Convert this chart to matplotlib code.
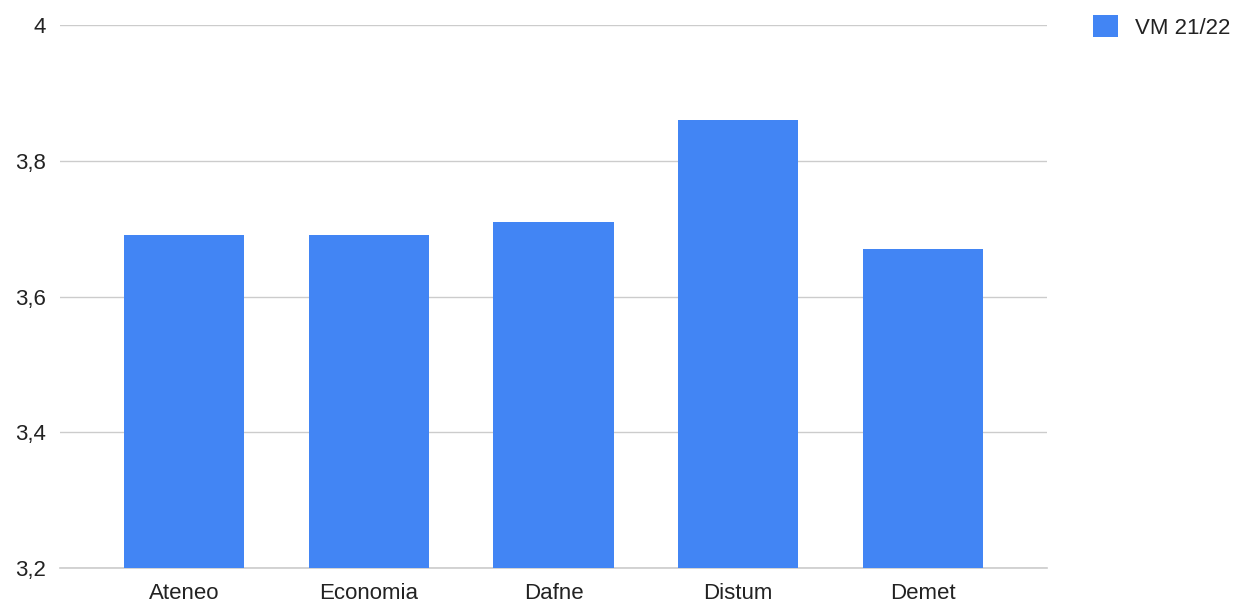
import numpy as np
from matplotlib import pyplot as plt
from matplotlib.ticker import FuncFormatter

categories = ["Ateneo", "Economia", "Dafne", "Distum", "Demet"]
values = [3.69, 3.69, 3.71, 3.86, 3.67]
series_name = "VM 21/22"
yticks = [3.2, 3.4, 3.6, 3.8, 4.0]

plt.rcParams["font.family"] = ["Liberation Sans", "DejaVu Sans"]

fig = plt.figure(figsize=(12.5, 6.04), dpi=100)
ax = fig.add_axes([0.048, 0.0596, 0.7896, 0.899])

x = np.arange(len(categories))
ax.bar(x, values, width=0.65, color="#4285f4", label=series_name, zorder=3)

ax.set_xlim(-0.672, len(categories) - 1 + 0.672)
ax.set_ylim(3.2, 4.0)
ax.set_yticks(yticks)
ax.yaxis.set_major_formatter(
    FuncFormatter(lambda v, p: ("%g" % round(v, 1)).replace(".", ","))
)
ax.set_xticks(x)
ax.set_xticklabels(categories)
ax.grid(axis="y", color="#cccccc", lw=1, zorder=0)
ax.axhline(3.2, color="#cccccc", lw=1.2, zorder=2, clip_on=False)
for s in ax.spines.values():
    s.set_visible(False)
ax.tick_params(length=0, labelsize=16, colors="#222222", pad=10)
ax.tick_params(axis="x", pad=11)

ax.legend(loc="upper left", bbox_to_anchor=(0.858, 1.008),
          bbox_transform=fig.transFigure, frameon=False, fontsize=16,
          handlelength=1.15, handleheight=1.15, handletextpad=0.75,
          labelcolor="#222222")

fig.savefig("out.png", dpi=100)
